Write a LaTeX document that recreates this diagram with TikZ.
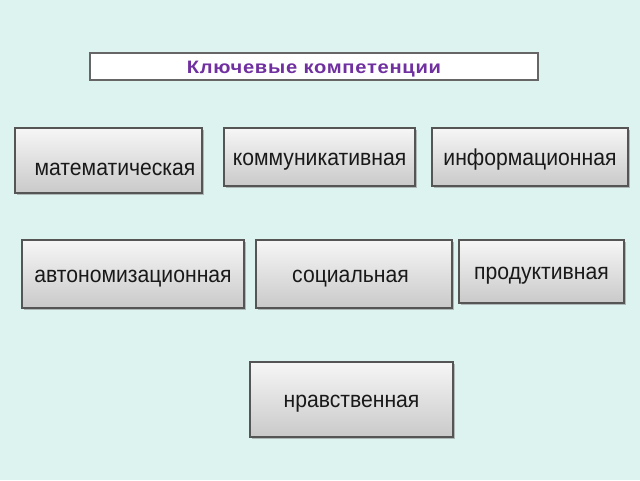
\documentclass[tikz,border=0pt]{standalone}
\usepackage{fontspec}
\setmainfont{Liberation Sans}
\usetikzlibrary{positioning,shadows}
\definecolor{mintbg}{HTML}{DDF3F0}
\definecolor{titlepurple}{HTML}{7030A0}
\definecolor{boxedge}{HTML}{555555}
\tikzset{
  compbox/.style={draw=boxedge, line width=1.2pt, top color=gray!7, bottom color=gray!42,
    inner sep=0pt, text height=20pt, text depth=4pt, text=black!90,
    font=\fontsize{23}{25}\selectfont\addfontfeature{FakeStretch=0.92},
    drop shadow={shadow xshift=1.5pt, shadow yshift=-1.5pt, fill=gray, opacity=0.5}},
  titlebox/.style={draw=gray!80!black, line width=1.2pt, fill=white, inner sep=0pt,
    text height=17pt, text depth=3pt, text=titlepurple,
    font=\fontsize{18}{20}\selectfont\bfseries\addfontfeature{FakeStretch=1.12,LetterSpace=4}}
}

\begin{document}
\begin{tikzpicture}[x=1pt,y=-1pt]

    \fill[mintbg](0,0) rectangle (640,480);

    \node[titlebox, minimum width=448pt, minimum height=27pt] (title) at (314,66.5) {Ключевые компетенции};

    % first row
    \node[compbox, minimum width=187pt, minimum height=65pt, text height=33pt] (math) at (108.5,160.5) {\hspace*{13pt}математическая};
    \node[compbox, minimum width=191pt, minimum height=58pt] (comm) at (319.5,157) {коммуникативная};
    \node[compbox, minimum width=196pt, minimum height=58pt] (info) at (530,157) {информационная};

    % second row
    \node[compbox, minimum width=222pt, minimum height=68pt] (auto) at (133,274) {автономизационная};
    \node[compbox, minimum width=196pt, minimum height=68pt] (soc) at (354,274) {социальная\hspace*{7pt}};
    \node[compbox, minimum width=165pt, minimum height=63pt] (prod) at (541.5,271.5) {продуктивная};

    % third row
    \node[compbox, minimum width=203pt, minimum height=75pt] (moral) at (351.5,399.5) {нравственная};

\end{tikzpicture}
\end{document}
